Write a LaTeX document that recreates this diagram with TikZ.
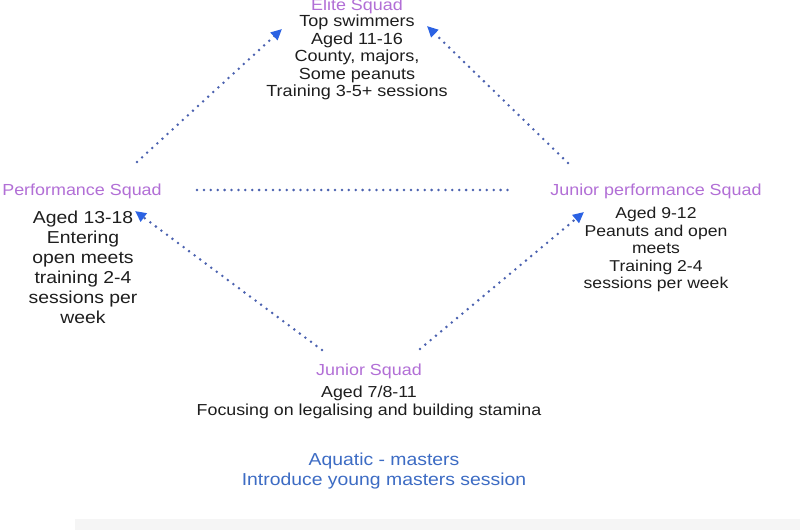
\documentclass[tikz,border=0pt]{standalone}
\usepackage{fontspec}
\setmainfont{Liberation Sans}[FakeStretch=1.12]
\usetikzlibrary{arrows.meta}
\definecolor{ttl}{HTML}{B26FD6}
\definecolor{dotc}{HTML}{4B62B0}
\definecolor{tipc}{HTML}{2B62E3}
\definecolor{aq}{HTML}{3D6CC4}
\definecolor{txt}{HTML}{1E1E1E}
\begin{document}
\begin{tikzpicture}[x=1pt,y=-1pt,
  title/.style={text=ttl,font=\fontsize{16}{18}\selectfont,inner sep=0pt},
  body/.style={text=txt,align=center,inner sep=0pt},
  aqua/.style={text=aq,align=center,inner sep=0pt,font=\fontsize{17.3}{20}\selectfont},
  link/.style={dotc,line width=2.8pt,line cap=round,dash pattern=on 0pt off 6.9pt},
  arr/.style={link,-{Triangle[length=11pt,width=10pt,color=tipc,line cap=butt]}}]
\useasboundingbox (0,0) rectangle (800,530);
\fill[white] (0,0) rectangle (800,530);
\fill[black!4] (75,519) rectangle (800,530);
% titles
\node[title] (elite) at (357,6) {Elite Squad};
\node[title] (perf) at (82,191) {Performance Squad};
\node[title] (jperf) at (656,191) {Junior performance Squad};
\node[title] (junior) at (369,371) {Junior Squad};
% bodies
\node[body,anchor=north,font=\fontsize{16.1}{17.5}\selectfont] (eliteb) at (357,15) {Top swimmers\\Aged 11-16\\County, majors,\\Some peanuts\\Training 3-5+ sessions};
\node[body,anchor=north,font=\fontsize{17.3}{20}\selectfont] (perfb) at (83,210.5) {Aged 13-18\\Entering\\open meets\\training 2-4\\sessions per\\week};
\node[body,anchor=north,font=\fontsize{15.7}{17.5}\selectfont] (jperfb) at (656,207) {Aged 9-12\\Peanuts and open\\meets\\Training 2-4\\sessions per week};
\node[body,anchor=north,font=\fontsize{15.9}{17.5}\selectfont] (juniorb) at (369,386) {Aged 7/8-11\\Focusing on legalising and building stamina};
\node[aqua,anchor=north] (aquatic) at (384,453) {Aquatic - masters\\Introduce young masters session};
% connector ends
\coordinate (pu) at (137,162);
\coordinate (eu) at (282,29);
\coordinate (ju) at (568,163);
\coordinate (er) at (427,26);
\coordinate (jl) at (322,350);
\coordinate (pl) at (135,211);
\coordinate (jr) at (420,349);
\coordinate (jpl) at (584,212);
\coordinate (hl) at (197,190);
\coordinate (hr) at (511,190);
\draw[arr] (pu) -- (eu);
\draw[arr] (ju) -- (er);
\draw[arr] (jl) -- (pl);
\draw[arr] (jr) -- (jpl);
\draw[link] (hl) -- (hr);
\end{tikzpicture}
\end{document}
